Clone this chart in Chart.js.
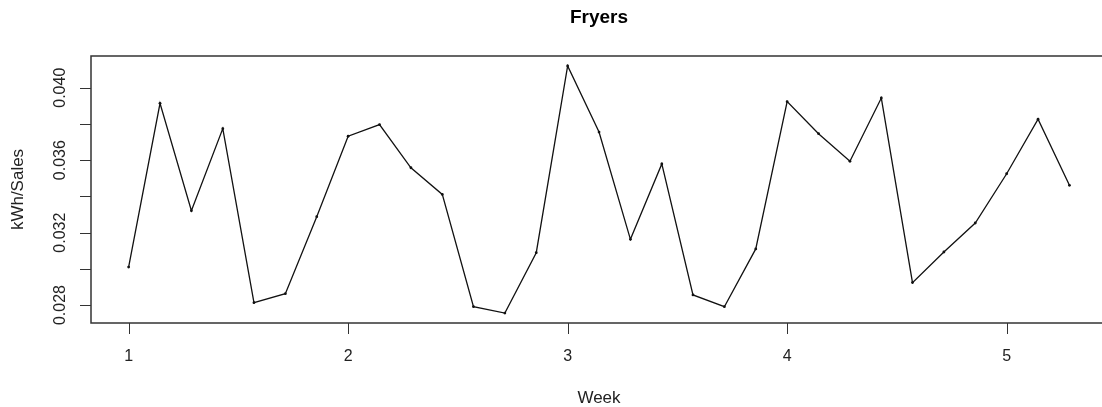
<!DOCTYPE html>
<html>
<head>
<meta charset="utf-8">
<script src="https://cdn.jsdelivr.net/npm/chart.js@4/dist/chart.umd.min.js"></script>
<style>
html,body{margin:0;padding:0;background:#fff;overflow:hidden;}
#wrap{width:1110px;height:407px;}
</style>
</head>
<body>
<div id="wrap"><canvas id="fryersChart" width="1110" height="407"></canvas></div>
<script>
// labels
const chartTitle = "Fryers";
const xTitle = "Week";
const yTitle = "kWh/Sales";

// one point per day, x is in weeks
const weeks = [1, 1.143, 1.286, 1.429, 1.571, 1.714, 1.857,
               2, 2.143, 2.286, 2.429, 2.571, 2.714, 2.857,
               3, 3.143, 3.286, 3.429, 3.571, 3.714, 3.857,
               4, 4.143, 4.286, 4.429, 4.571, 4.714, 4.857,
               5, 5.143, 5.286];
const kwhPerSales = [0.0301, 0.03914, 0.03321, 0.03774, 0.02813, 0.02863, 0.03288,
                     0.03732, 0.03796, 0.03558, 0.03411, 0.02791, 0.02756, 0.03089,
                     0.0412, 0.03755, 0.03163, 0.03579, 0.02856, 0.02791, 0.0311,
                     0.03923, 0.03746, 0.03594, 0.03943, 0.02924, 0.03093, 0.03253,
                     0.03525, 0.03826, 0.03461];

// axis ticks
const xTicks = [1, 2, 3, 4, 5];
const yTicks = [0.028, 0.030, 0.032, 0.034, 0.036, 0.038, 0.040];
const yTickLabels = ["0.028", "", "0.032", "", "0.036", "", "0.040"];

const FONT = "'Liberation Sans', Arial, sans-serif";

// base-R style box, ticks and rotated labels
const rAxesPlugin = {
    id: "rAxes",
    afterDraw(chart){
        const ctx = chart.ctx;
        const area = chart.chartArea;
        const xs = chart.scales.x;
        const ys = chart.scales.y;
        ctx.save();

        ctx.strokeStyle = "#333";
        ctx.lineWidth = 1.5;
        ctx.strokeRect(area.left, area.top, area.right - area.left, area.bottom - area.top);

        ctx.lineWidth = 1;
        ctx.beginPath();
        xTicks.forEach(v => {
            const px = Math.round(xs.getPixelForValue(v)) + 0.5;
            ctx.moveTo(px, area.bottom);
            ctx.lineTo(px, area.bottom + 11);
        });
        yTicks.forEach(v => {
            const py = Math.round(ys.getPixelForValue(v)) + 0.5;
            ctx.moveTo(area.left, py);
            ctx.lineTo(area.left - 11, py);
        });
        ctx.stroke();

        ctx.fillStyle = "#222";
        ctx.textAlign = "center";
        ctx.textBaseline = "alphabetic";
        ctx.font = "16px " + FONT;
        xTicks.forEach(v => ctx.fillText(String(v), xs.getPixelForValue(v), 361));
        yTicks.forEach((v, i) => {
            if(!yTickLabels[i]) return;
            ctx.save();
            ctx.translate(65, ys.getPixelForValue(v));
            ctx.rotate(-Math.PI / 2);
            ctx.fillText(yTickLabels[i], 0, 0);
            ctx.restore();
        });

        ctx.font = "17px " + FONT;
        ctx.fillText(xTitle, (area.left + area.right) / 2, 403);
        ctx.save();
        ctx.translate(23, (area.top + area.bottom) / 2);
        ctx.rotate(-Math.PI / 2);
        ctx.fillText(yTitle, 0, 0);
        ctx.restore();

        ctx.fillStyle = "#000";
        ctx.font = "bold 19px " + FONT;
        ctx.fillText(chartTitle, (area.left + area.right) / 2, 23);

        ctx.restore();
    }
};

class FryersChart{
    constructor(canvasId){
        this.canvasId = canvasId;
        this.chart = null;
    }

    renderChart(){
        const ctx = document.getElementById(this.canvasId).getContext("2d");
        const points = weeks.map((w, i) => ({x: w, y: kwhPerSales[i]}));

        this.chart = new Chart(ctx, {
            type: "line",
            data: {
                datasets: [{
                    label: yTitle,
                    data: points,
                    borderColor: "#111",
                    borderWidth: 1.3,
                    backgroundColor: "#111",
                    pointRadius: 1.4,
                    pointBorderWidth: 0,
                    tension: 0
                }]
            },
            options: {
                responsive: false,
                animation: false,
                events: [],
                layout: {
                    autoPadding: false,
                    padding: {left: 91, top: 56, right: 3, bottom: 84}
                },
                plugins: {
                    legend: {display: false},
                    tooltip: {enabled: false}
                },
                scales: {
                    x: {type: "linear", display: false, min: 0.8286, max: 5.4571},
                    y: {type: "linear", display: false, min: 0.02701, max: 0.04175}
                }
            },
            plugins: [rAxesPlugin]
        });
    }

    init(){
        this.renderChart();
    }
}

document.addEventListener("DOMContentLoaded", () => {
    const chart = new FryersChart("fryersChart");
    chart.init();
});
</script>
</body>
</html>
